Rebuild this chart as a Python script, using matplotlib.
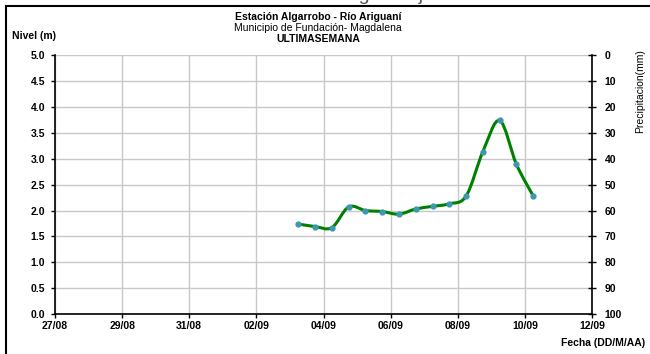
# Nivel del rio - Estacion Algarrobo (ultima semana)

import numpy as np
import matplotlib
matplotlib.use('Agg')
import matplotlib.pyplot as plt
import matplotlib.dates as mdates
from matplotlib.path import Path
from matplotlib.patches import PathPatch, Rectangle
import pandas as pd

plt.rcParams['font.family'] = ['Liberation Sans', 'DejaVu Sans']

# datos
fechas = ['2015-09-03 06:00', '2015-09-03 18:00', '2015-09-04 06:00', '2015-09-04 18:00',
          '2015-09-05 06:00', '2015-09-05 18:00', '2015-09-06 06:00', '2015-09-06 18:00',
          '2015-09-07 06:00', '2015-09-07 18:00', '2015-09-08 06:00', '2015-09-08 18:00',
          '2015-09-09 06:00', '2015-09-09 18:00', '2015-09-10 06:00']
niveles = [1.74, 1.69, 1.67, 2.07, 2.00, 1.98, 1.93, 2.03,
           2.08, 2.13, 2.28, 3.14, 3.74, 2.89, 2.28]
ticks_fecha = ['2015-08-27', '2015-08-29', '2015-08-31', '2015-09-02', '2015-09-04',
               '2015-09-06', '2015-09-08', '2015-09-10', '2015-09-12']
ticks_nivel = [0.0, 0.5, 1.0, 1.5, 2.0, 2.5, 3.0, 3.5, 4.0, 4.5, 5.0]
ticks_precip = [0, 10, 20, 30, 40, 50, 60, 70, 80, 90, 100]

x = mdates.date2num(pd.to_datetime(fechas))
y = np.array(niveles)
xt = mdates.date2num(pd.to_datetime(ticks_fecha))

fig = plt.figure(figsize=(6.5, 3.54), dpi=100)

# marco y texto del documento cortado arriba
fig.patches.append(Rectangle((6/650, -0.1), 1.1, 1 - 6/354 + 0.1, transform=fig.transFigure,
                             fill=False, edgecolor='black', linewidth=1.5))
fig.text(30/650, 1 + 0.5/354, 'mantener condiciones en el nivel de agua baja',
         fontsize=14, color='#555555', va='baseline', ha='left')

ax = fig.add_axes([55/650, 1 - 314/354, (592 - 55)/650, (314 - 55.3)/354])

# linea suavizada (tipo Excel)
pts = np.column_stack([x, y])
n = len(pts)
verts = [tuple(pts[0])]
codes = [Path.MOVETO]
for i in range(n - 1):
    p0 = pts[max(i - 1, 0)]
    p1 = pts[i]
    p2 = pts[i + 1]
    p3 = pts[min(i + 2, n - 1)]
    c1 = p1 + (p2 - p0) / 6
    c2 = p2 - (p3 - p1) / 6
    verts += [tuple(c1), tuple(c2), tuple(p2)]
    codes += [Path.CURVE4] * 3
ax.add_patch(PathPatch(Path(verts, codes), fill=False, edgecolor='#008000', linewidth=2.2, zorder=3))
ax.plot(x, y, linestyle='none', marker='o', markersize=3.5, color='#3f97b0', zorder=4)

ax.set_xlim(xt[0], xt[-1])
ax.set_ylim(0, 5)
ax.set_xticks(xt)
ax.set_xticklabels([pd.to_datetime(t).strftime('%d/%m') for t in ticks_fecha])
ax.set_yticks(ticks_nivel)
ax.set_yticklabels(['%.1f' % v for v in ticks_nivel])
ax.grid(True, color='#c8c8c8', linewidth=1)
ax.set_axisbelow(True)
ax.spines['top'].set_visible(False)
ax.spines['right'].set_visible(False)
for s in ['left', 'bottom']:
    ax.spines[s].set_linewidth(1.2)
ax.tick_params(axis='both', direction='out', length=3, width=1, labelsize=7.5)
ax.tick_params(axis='x', pad=2)
ax.tick_params(axis='y', pad=4)
for lab in ax.get_xticklabels() + ax.get_yticklabels():
    lab.set_fontweight('bold')

ax2 = ax.twinx()
ax2.set_ylim(100, 0)
ax2.set_yticks(ticks_precip)
ax2.set_yticklabels([str(v) for v in ticks_precip])
ax2.spines['top'].set_visible(False)
ax2.spines['left'].set_visible(False)
ax2.spines['bottom'].set_visible(False)
ax2.spines['right'].set_linewidth(1.2)
ax2.tick_params(axis='y', direction='inout', length=6, width=1, labelsize=7.5, pad=6)
for lab in ax2.get_yticklabels():
    lab.set_fontweight('bold')
ax2.set_ylabel('Precipitacion(mm)', fontsize=7.5)
ax2.yaxis.set_label_coords(1.08, 0.86)

fig.text(318/650, 1 - 17/354, 'Estación Algarrobo - Río Ariguaní', ha='center', va='center',
         fontsize=7.5, fontweight='bold')
fig.text(318/650, 1 - 28/354, 'Municipio de Fundación- Magdalena', ha='center', va='center',
         fontsize=7.5)
fig.text(318/650, 1 - 38.5/354, 'ULTIMASEMANA', ha='center', va='center',
         fontsize=7.5, fontweight='bold')
fig.text(12/650, 1 - 36/354, 'Nivel (m)', ha='left', va='center', fontsize=7.5, fontweight='bold')
fig.text(645/650, 1 - 343/354, 'Fecha (DD/M/AA)', ha='right', va='center',
         fontsize=7.5, fontweight='bold')

fig.savefig('out.png', dpi=100)
